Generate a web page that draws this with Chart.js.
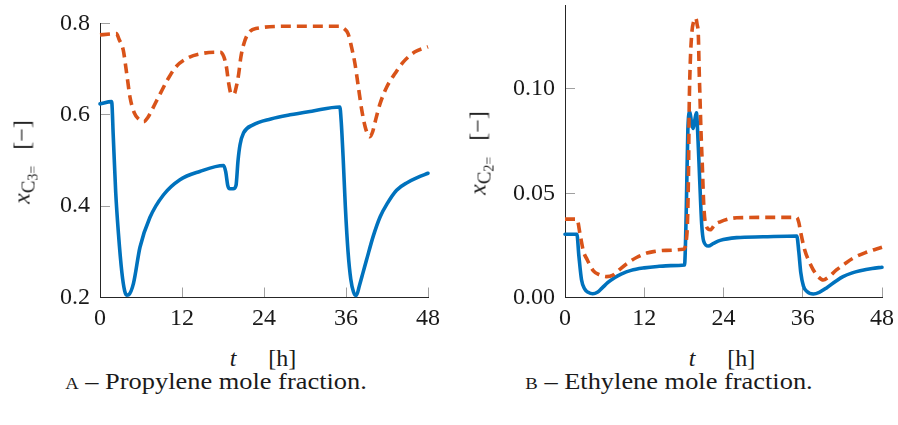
<!DOCTYPE html>
<html>
<head>
<meta charset="utf-8">
<script src="https://cdn.jsdelivr.net/npm/chart.js@4.4.1/dist/chart.umd.min.js"></script>
<style>
  html, body { margin: 0; padding: 0; background: #fff; }
  body { width: 898px; height: 425px; position: relative; overflow: hidden;
         font-family: "Liberation Serif", serif; color: #1a1a1a; }
  .panel { position: absolute; top: 0; width: 449px; height: 340px; }
  .ytitle { position: absolute; white-space: nowrap; font-size: 24px;
            transform: translate(-50%, -50%) rotate(-90deg); }
  .xtitle { position: absolute; white-space: nowrap; font-size: 24px;
            transform: translate(-50%, -50%); }
  .caption { position: absolute; white-space: nowrap; font-size: 24px;
             transform: translate(-50%, -50%) scaleX(1.1); }
  .s1 { font-size: 19px; position: relative; top: 5px; }
  .s2 { font-size: 14px; position: relative; top: 3px; }
  .unit { margin-left: 16px; }
  .sc { font-variant: small-caps; }
</style>
</head>
<body>
<div class="panel" style="left:0"><canvas id="chartC3" width="449" height="340"></canvas></div>
<div class="panel" style="left:449px"><canvas id="chartC2" width="449" height="340"></canvas></div>

<div class="ytitle" style="left:22px; top:162px"><i>x</i><span class="s1">C<span class="s2">3=</span></span><span class="unit">[−]</span></div>
<div class="ytitle" style="left:478px; top:153px"><i>x</i><span class="s1">C<span class="s2">2=</span></span><span class="unit">[−]</span></div>
<div class="xtitle" style="left:263px; top:358px"><i>t</i><span style="margin-left:32px">[h]</span></div>
<div class="xtitle" style="left:722px; top:358px"><i>t</i><span style="margin-left:32px">[h]</span></div>
<div class="caption" style="left:216px; top:381px"><span class="sc">a</span> – Propylene mole fraction.</div>
<div class="caption" style="left:669px; top:381px"><span class="sc">b</span> – Ethylene mole fraction.</div>

<script>
// Time axis ticks (hours)
const timeTicks = [0, 12, 24, 36, 48];

// Propylene mole fraction, solid (blue) trajectory
const tC3Solid = [0, 1.7, 1.95, 2.3, 2.7, 3.2, 3.6, 3.9, 4.2, 4.9, 5.85, 7.3, 9.3, 11.7, 14.6, 18.1,
  18.4, 18.7, 19.0, 19.5, 19.9, 20.2, 20.5, 21.0, 22.4, 25, 27.8, 31, 35.1,
  35.3, 35.6, 35.9, 36.3, 36.7, 37.1, 37.5, 38.0, 38.5, 39.0, 40.0, 41.0, 42.0, 43.4, 45.0, 46.5, 48];
const xC3Solid = [0.624, 0.629, 0.55, 0.43, 0.34, 0.255, 0.215, 0.205, 0.206, 0.231, 0.31, 0.375, 0.425, 0.458, 0.476, 0.489,
  0.475, 0.445, 0.438, 0.438, 0.445, 0.50, 0.535, 0.56, 0.578, 0.591, 0.60, 0.608, 0.617,
  0.585, 0.50, 0.40, 0.30, 0.24, 0.212, 0.204, 0.228, 0.255, 0.282, 0.335, 0.377, 0.405, 0.435, 0.452, 0.463, 0.472];

// Propylene mole fraction, dashed (orange) trajectory
const tC3Dashed = [0, 1.5, 2.4, 2.8, 3.4, 3.9, 4.4, 5.0, 5.7, 6.4, 7.0, 7.65, 8.8, 9.85, 11.1, 12.9, 15.2, 17.6,
  18.1, 18.5, 18.8, 19.2, 19.6, 20.0, 20.3, 20.6, 21.0, 21.6, 22.8, 27.8, 35.1,
  35.7, 36.3, 36.8, 37.3, 37.8, 38.3, 38.8, 39.2, 39.5, 39.9, 40.2, 41.0, 42.0, 43.2, 44.4, 46.1, 48];
const xC3Dashed = [0.775, 0.777, 0.778, 0.765, 0.742, 0.691, 0.638, 0.605, 0.590, 0.585, 0.594, 0.612, 0.646, 0.676, 0.705, 0.725, 0.735, 0.737,
  0.728, 0.705, 0.672, 0.646, 0.645, 0.665, 0.690, 0.725, 0.753, 0.776, 0.789, 0.794, 0.794,
  0.789, 0.778, 0.749, 0.713, 0.662, 0.611, 0.574, 0.557, 0.552, 0.563, 0.581, 0.625, 0.662, 0.691, 0.716, 0.738, 0.749];

// Ethylene mole fraction, solid (blue) trajectory
const tC2Solid = [0, 1.8, 2.1, 2.5, 3.0, 3.5, 4.2, 4.9, 5.6, 6.5, 7.5, 8.5, 10, 12, 14, 16, 18.1,
  18.35, 18.6, 18.9, 19.15, 19.4, 19.65, 19.9, 20.15, 20.4, 20.7, 21.0, 21.7, 22.5, 23.5, 26, 30, 35.1,
  35.4, 35.7, 36.1, 36.6, 37.6, 38.5, 39.6, 41, 42.1, 43.5, 44.7, 46.5, 48];
const xC2Solid = [0.0303, 0.0303, 0.020, 0.0085, 0.0040, 0.0025, 0.0018, 0.0025, 0.0045, 0.0072, 0.0095, 0.0112, 0.0130, 0.0142, 0.0149, 0.0153, 0.0156,
  0.040, 0.080, 0.089, 0.084, 0.081, 0.085, 0.0885, 0.075, 0.056, 0.035, 0.027, 0.0247, 0.0260, 0.0274, 0.0287, 0.0291, 0.0295,
  0.022, 0.012, 0.0055, 0.0030, 0.0017, 0.0025, 0.0046, 0.0078, 0.0100, 0.0118, 0.0128, 0.0139, 0.0145];

// Ethylene mole fraction, dashed (orange) trajectory
const tC2Dashed = [0, 1.8, 2.3, 2.8, 3.3, 4.3, 5.3, 6.3, 7.3, 8.3, 9.5, 10.9, 12.4, 13.4, 15.3, 17.9,
  18.45, 18.7, 18.8, 18.95, 19.2, 19.5, 19.8, 20.0, 20.2, 20.3, 20.45, 20.6, 20.8, 21.0, 21.3, 22.0, 22.7, 23.5, 25, 26, 30, 35.1,
  35.4, 35.7, 36.3, 37.0, 37.6, 38.4, 39.1, 39.8, 41.1, 42.3, 43.6, 45.5, 48];
const xC2Dashed = [0.0376, 0.0376, 0.030, 0.022, 0.0185, 0.0128, 0.0108, 0.0100, 0.0108, 0.0135, 0.0165, 0.0193, 0.0213, 0.0220, 0.0226, 0.0231,
  0.030, 0.0595, 0.090, 0.111, 0.1267, 0.1325, 0.134, 0.131, 0.125, 0.111, 0.0947, 0.0788, 0.0627, 0.045, 0.035, 0.0325, 0.035, 0.0363, 0.0378, 0.0382, 0.0384, 0.0384,
  0.036, 0.031, 0.0228, 0.017, 0.0132, 0.0098, 0.0084, 0.0095, 0.0132, 0.0160, 0.0188, 0.0215, 0.0241];

// Value axis ticks
const yTicksC3 = [0.2, 0.4, 0.6, 0.8];
const yTicksC2 = [0.00, 0.05, 0.10];

const BLUE = '#0072BD';
const ORANGE = '#D95319';
const TEXT = '#1a1a1a';
const FONT = { family: '"Liberation Serif", serif', size: 24 };

function points(ts, vs) {
  return ts.map((t, i) => ({ x: t, y: vs[i] }));
}

function makeChart(id, solid, dashed, yMin, yMax, yTicks, decimals, area) {
  const W = 449, H = 340;
  const yWidth = area.left;
  const xHeight = 30;
  return new Chart(document.getElementById(id), {
    type: 'line',
    data: {
      datasets: [
        { data: dashed, borderColor: ORANGE, borderWidth: 3.6, borderDash: [10, 6],
          pointRadius: 0, cubicInterpolationMode: 'monotone', clip: false,
          borderCapStyle: 'butt', borderJoinStyle: 'round' },
        { data: solid, borderColor: BLUE, borderWidth: 3.6,
          pointRadius: 0, cubicInterpolationMode: 'monotone', clip: false,
          borderCapStyle: 'round', borderJoinStyle: 'round' }
      ]
    },
    options: {
      responsive: false,
      animation: false,
      devicePixelRatio: 1,
      layout: { padding: { left: 0, top: area.top, right: W - area.right, bottom: H - area.bottom - xHeight } },
      plugins: { legend: { display: false }, tooltip: { enabled: false } },
      scales: {
        x: {
          type: 'linear', min: 0, max: 48,
          border: { color: '#262626', width: 1 },
          grid: { drawOnChartArea: false, tickLength: -10, color: '#a0a0a0', lineWidth: 1 },
          afterBuildTicks: s => { s.ticks = timeTicks.map(v => ({ value: v })); },
          ticks: { font: FONT, color: TEXT, padding: 17, maxRotation: 0, autoSkip: false },
          afterFit: s => { s.height = xHeight; s.paddingLeft = 0; s.paddingRight = 0; }
        },
        y: {
          type: 'linear', min: yMin, max: yMax,
          border: { color: '#262626', width: 1 },
          grid: { drawOnChartArea: false, tickLength: -10, color: '#a0a0a0', lineWidth: 1 },
          afterBuildTicks: s => { s.ticks = yTicks.map(v => ({ value: v })); },
          ticks: { font: FONT, color: TEXT, padding: 20, callback: v => Number(v).toFixed(decimals) },
          afterFit: s => { s.width = yWidth; s.paddingTop = 0; s.paddingBottom = 0; }
        }
      }
    }
  });
}

makeChart('chartC3', points(tC3Solid, xC3Solid), points(tC3Dashed, xC3Dashed),
  0.2, 0.8, yTicksC3, 1, { left: 100, top: 23.5, right: 428, bottom: 297.5 });
makeChart('chartC2', points(tC2Solid, xC2Solid), points(tC2Dashed, xC2Dashed),
  0, 0.14, yTicksC2, 2, { left: 116, top: 5.5, right: 433, bottom: 297.5 });
</script>
</body>
</html>
